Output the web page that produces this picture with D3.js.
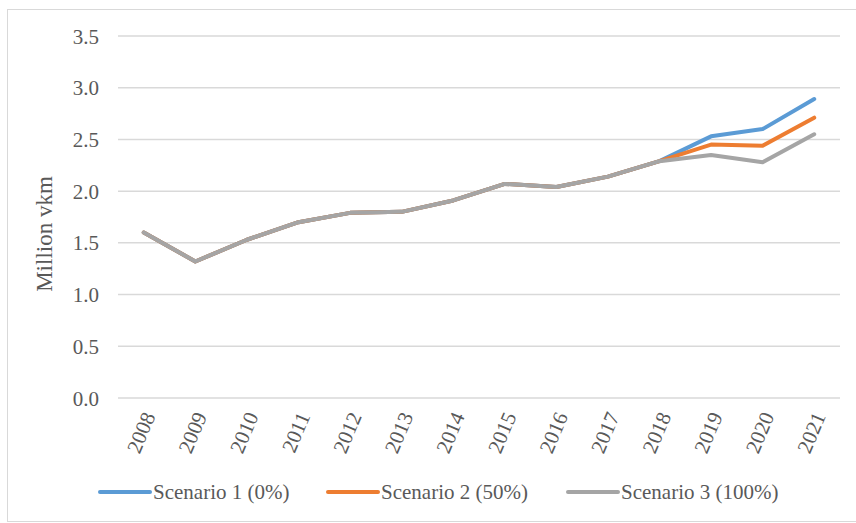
<!DOCTYPE html>
<html>
<head>
<meta charset="utf-8">
<script src="https://cdn.jsdelivr.net/npm/d3@7"></script>
<style>
  html, body { margin: 0; padding: 0; background: #fff; }
  svg { display: block; }
  text { font-family: "Liberation Serif", "Times New Roman", serif; fill: #595959; }
</style>
</head>
<body>
<svg id="chart" width="856" height="523"></svg>
<script>
// Vehicle-km by scenario, 2008-2021
const years = ["2008","2009","2010","2011","2012","2013","2014","2015","2016","2017","2018","2019","2020","2021"];
const scenario1 = [1.60, 1.32, 1.53, 1.70, 1.79, 1.80, 1.91, 2.07, 2.04, 2.14, 2.29, 2.53, 2.60, 2.89];
const scenario2 = [1.60, 1.32, 1.53, 1.70, 1.79, 1.80, 1.91, 2.07, 2.04, 2.14, 2.29, 2.45, 2.44, 2.71];
const scenario3 = [1.60, 1.32, 1.53, 1.70, 1.79, 1.80, 1.91, 2.07, 2.04, 2.14, 2.29, 2.35, 2.28, 2.55];
const seriesNames = ["Scenario 1 (0%)", "Scenario 2 (50%)", "Scenario 3 (100%)"];
const seriesColors = ["#5B9BD5", "#ED7D31", "#A5A5A5"];
const yTicks = [0, 0.5, 1.0, 1.5, 2.0, 2.5, 3.0, 3.5];

const series = [scenario1, scenario2, scenario3];

const svg = d3.select("#chart");

// outer frame
svg.append("rect")
  .attr("x", 7.5).attr("y", 9.5)
  .attr("width", 860).attr("height", 512)
  .attr("fill", "none").attr("stroke", "#D9D9D9").attr("stroke-width", 1);

const plot = { left: 118, right: 840, top: 36, bottom: 398 };

const x = d3.scaleBand().domain(years).range([plot.left, plot.right]);
const y = d3.scaleLinear().domain([0, 3.5]).range([plot.bottom, plot.top]);

// horizontal gridlines
svg.append("g")
  .selectAll("line")
  .data(yTicks)
  .join("line")
  .attr("x1", plot.left).attr("x2", plot.right)
  .attr("y1", d => y(d)).attr("y2", d => y(d))
  .attr("stroke", "#D9D9D9").attr("stroke-width", 1.5);

// y axis labels
const yAxis = d3.axisLeft(y).tickValues(yTicks).tickFormat(d3.format(".1f")).tickSize(0).tickPadding(0);
const gy = svg.append("g").attr("transform", `translate(${plot.left - 19},0)`).call(yAxis);
gy.select(".domain").remove();
gy.selectAll("text")
  .attr("font-family", "Liberation Serif, Times New Roman, serif")
  .attr("font-size", 21).attr("fill", "#595959").attr("dy", "0.34em");

// x axis labels, rotated
const xAxis = d3.axisBottom(x).tickSize(0).tickPadding(0);
const gx = svg.append("g").attr("transform", `translate(0,${plot.bottom})`).call(xAxis);
gx.select(".domain").remove();
gx.selectAll("text")
  .attr("font-family", "Liberation Serif, Times New Roman, serif")
  .attr("font-size", 21).attr("fill", "#595959")
  .attr("text-anchor", "end")
  .attr("y", 0).attr("dy", 0)
  .attr("transform", "translate(12,18) rotate(-67)");

// y axis title
svg.append("text")
  .attr("transform", `translate(52,${(plot.top + plot.bottom) / 2 + 17}) rotate(-90)`)
  .attr("text-anchor", "middle")
  .attr("font-size", 23)
  .text("Million vkm");

// lines
const line = d3.line()
  .x((d, i) => x(years[i]) + x.bandwidth() / 2)
  .y(d => y(d));

svg.append("g")
  .selectAll("path")
  .data(series)
  .join("path")
  .attr("d", d => line(d))
  .attr("fill", "none")
  .attr("stroke", (d, i) => seriesColors[i])
  .attr("stroke-width", 4)
  .attr("stroke-linejoin", "round")
  .attr("stroke-linecap", "round");

// legend
const legendX = [100, 328, 568];
const legend = svg.append("g")
  .selectAll("g")
  .data(seriesNames)
  .join("g")
  .attr("transform", (d, i) => `translate(${legendX[i]},492)`);
legend.append("line")
  .attr("x1", 0).attr("x2", 50).attr("y1", 0).attr("y2", 0)
  .attr("stroke", (d, i) => seriesColors[i])
  .attr("stroke-width", 4).attr("stroke-linecap", "round");
legend.append("text")
  .attr("x", 53).attr("y", 7)
  .attr("font-size", 21)
  .text(d => d);
</script>
</body>
</html>
